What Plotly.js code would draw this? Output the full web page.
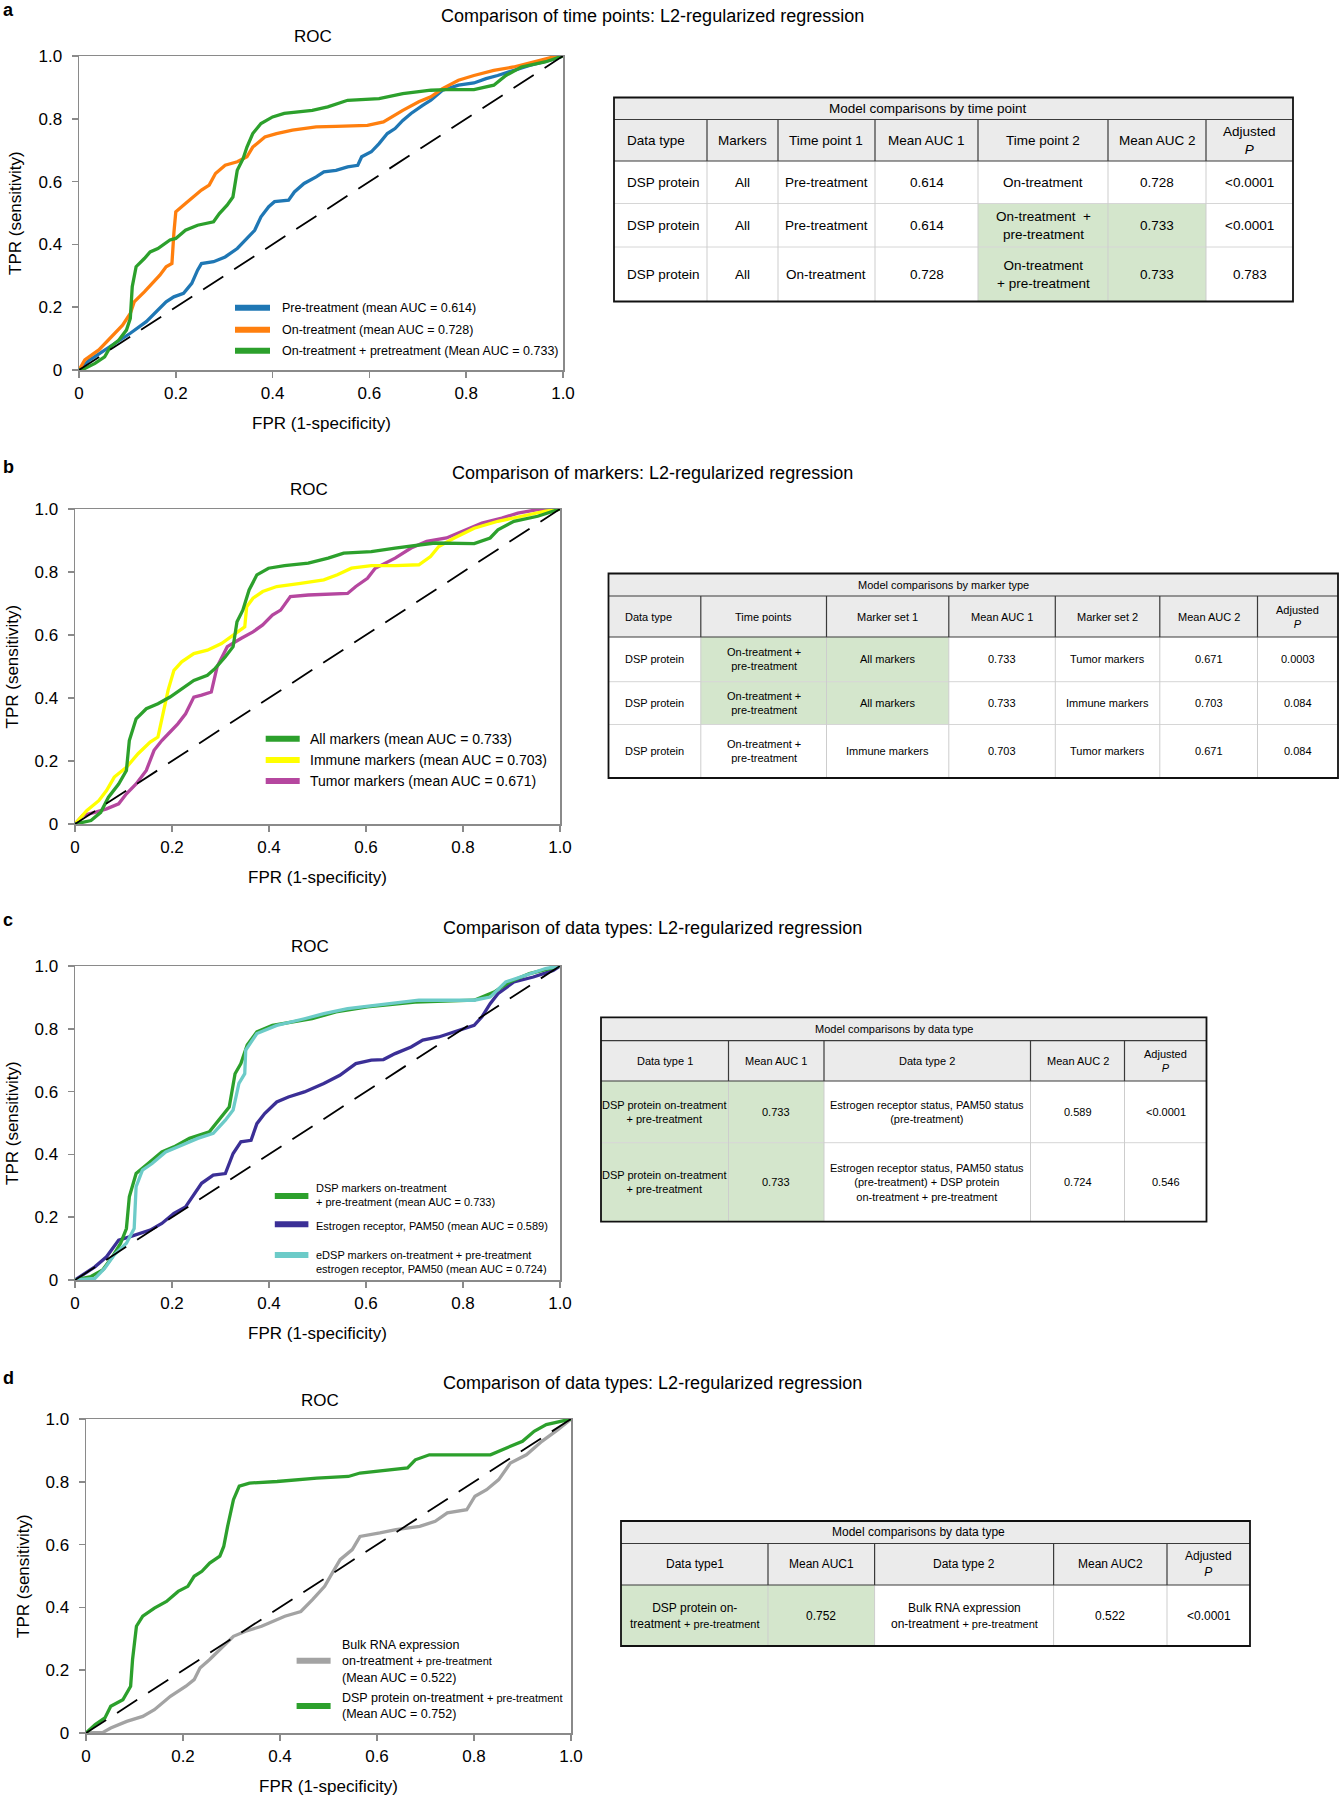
<!DOCTYPE html>
<html><head><meta charset="utf-8">
<script src="https://cdn.plot.ly/plotly-3.0.1.min.js"></script>
<style>body{margin:0;background:#fff}#chart{width:1344px;height:1800px}</style>
</head><body><div id="chart"></div>
<script>
// ---------------- DATA ----------------
const tickVals = [0, 0.2, 0.4, 0.6, 0.8, 1];
const tickText = ['0', '0.2', '0.4', '0.6', '0.8', '1.0'];
const diagonal = [0, 1];

// Panel a
const aPreX = [0,0.02,0.05,0.08,0.106,0.139,0.163,0.18,0.196,0.216,0.233,0.245,0.253,0.278,0.302,0.327,0.347,0.363,0.376,0.392,0.404,0.433,0.445,0.465,0.49,0.506,0.531,0.555,0.576,0.584,0.604,0.62,0.637,0.653,0.669,0.686,0.71,0.727,0.751,0.784,0.816,0.841,0.865,0.898,0.931,0.971,1];
const aPreY = [0,0.03,0.06,0.09,0.117,0.154,0.19,0.217,0.233,0.244,0.276,0.318,0.339,0.345,0.36,0.387,0.419,0.445,0.488,0.52,0.536,0.541,0.567,0.594,0.615,0.631,0.636,0.647,0.652,0.679,0.695,0.721,0.753,0.769,0.795,0.817,0.843,0.859,0.891,0.907,0.914,0.928,0.938,0.954,0.97,0.986,1];
const aOnX = [0,0.012,0.041,0.057,0.073,0.09,0.106,0.114,0.135,0.151,0.167,0.18,0.192,0.196,0.2,0.22,0.237,0.253,0.269,0.282,0.302,0.327,0.347,0.359,0.384,0.408,0.441,0.49,0.531,0.596,0.629,0.645,0.669,0.702,0.727,0.751,0.784,0.816,0.857,0.898,0.939,0.98,1];
const aOnY = [0,0.032,0.064,0.09,0.117,0.143,0.18,0.217,0.249,0.276,0.302,0.329,0.339,0.435,0.504,0.53,0.551,0.573,0.589,0.626,0.652,0.663,0.679,0.71,0.742,0.753,0.764,0.774,0.776,0.779,0.79,0.806,0.827,0.854,0.87,0.896,0.923,0.938,0.954,0.965,0.981,0.997,1];
const aComX = [0,0.012,0.033,0.053,0.065,0.082,0.098,0.106,0.11,0.118,0.135,0.147,0.163,0.188,0.2,0.22,0.245,0.278,0.29,0.306,0.318,0.327,0.339,0.347,0.359,0.376,0.4,0.424,0.482,0.514,0.555,0.62,0.669,0.727,0.759,0.816,0.857,0.869,0.882,0.914,0.963,1];
const aComY = [0,0.005,0.021,0.042,0.074,0.095,0.127,0.164,0.265,0.329,0.355,0.376,0.387,0.414,0.419,0.445,0.461,0.472,0.498,0.525,0.551,0.636,0.673,0.71,0.753,0.785,0.806,0.817,0.827,0.838,0.859,0.864,0.88,0.891,0.893,0.893,0.907,0.923,0.938,0.965,0.981,1];
const aLegend = ['Pre-treatment (mean AUC = 0.614)', 'On-treatment (mean AUC = 0.728)', 'On-treatment + pretreatment (Mean AUC = 0.733)'];

// Panel b
const bAllX = [0,0.033,0.053,0.069,0.09,0.106,0.112,0.126,0.147,0.171,0.196,0.22,0.245,0.273,0.289,0.31,0.326,0.334,0.346,0.359,0.375,0.399,0.432,0.481,0.522,0.554,0.611,0.66,0.709,0.742,0.823,0.856,0.872,0.905,0.954,1];
const bAllY = [0,0.011,0.037,0.085,0.127,0.17,0.265,0.334,0.366,0.382,0.403,0.43,0.456,0.472,0.494,0.531,0.563,0.642,0.679,0.743,0.791,0.812,0.82,0.828,0.844,0.86,0.865,0.876,0.886,0.892,0.89,0.908,0.934,0.961,0.977,1];
const bImmX = [0,0.024,0.049,0.065,0.081,0.106,0.13,0.155,0.171,0.179,0.192,0.204,0.22,0.245,0.273,0.302,0.326,0.35,0.354,0.367,0.387,0.416,0.465,0.513,0.541,0.57,0.611,0.66,0.709,0.733,0.75,0.782,0.823,0.872,0.921,0.97,1];
const bImmY = [0,0.042,0.074,0.106,0.149,0.18,0.223,0.26,0.276,0.329,0.425,0.488,0.515,0.541,0.552,0.573,0.6,0.626,0.69,0.717,0.738,0.754,0.764,0.775,0.791,0.812,0.82,0.82,0.823,0.849,0.881,0.908,0.939,0.961,0.977,0.993,1];
const bTumX = [0,0.016,0.041,0.065,0.09,0.106,0.126,0.147,0.163,0.179,0.196,0.212,0.228,0.245,0.261,0.281,0.293,0.314,0.342,0.367,0.387,0.407,0.424,0.444,0.481,0.562,0.579,0.603,0.619,0.66,0.693,0.725,0.766,0.807,0.839,0.88,0.913,0.954,1];
const bTumY = [0,0.027,0.037,0.048,0.064,0.096,0.127,0.17,0.234,0.265,0.292,0.318,0.35,0.403,0.409,0.419,0.499,0.563,0.589,0.61,0.632,0.663,0.679,0.722,0.727,0.732,0.754,0.78,0.812,0.844,0.876,0.897,0.908,0.934,0.955,0.971,0.987,0.998,1];
const bLegend = ['All markers (mean AUC = 0.733)', 'Immune markers (mean AUC = 0.703)', 'Tumor markers (mean AUC = 0.671)'];

// Panel c
const cDspX = [0,0.033,0.057,0.077,0.094,0.106,0.112,0.126,0.147,0.179,0.204,0.236,0.277,0.302,0.318,0.33,0.342,0.355,0.375,0.407,0.456,0.489,0.538,0.603,0.701,0.823,0.864,0.896,0.937,1];
const cDspY = [0,0.011,0.032,0.074,0.117,0.164,0.265,0.339,0.366,0.408,0.424,0.451,0.472,0.52,0.551,0.657,0.689,0.748,0.79,0.811,0.822,0.832,0.854,0.87,0.885,0.891,0.917,0.949,0.976,1];
const cErX = [0,0.041,0.065,0.09,0.114,0.155,0.179,0.204,0.228,0.244,0.261,0.285,0.31,0.326,0.342,0.363,0.375,0.391,0.416,0.44,0.473,0.513,0.546,0.579,0.611,0.636,0.66,0.693,0.717,0.75,0.791,0.823,0.839,0.856,0.872,0.905,0.945,0.986,1];
const cErY = [0,0.042,0.074,0.127,0.138,0.159,0.18,0.212,0.233,0.27,0.308,0.334,0.339,0.403,0.44,0.445,0.498,0.53,0.567,0.583,0.599,0.626,0.652,0.689,0.7,0.702,0.721,0.742,0.764,0.774,0.795,0.811,0.838,0.88,0.912,0.949,0.965,0.986,1];
const cEdspX = [0,0.041,0.061,0.081,0.106,0.122,0.126,0.139,0.159,0.187,0.22,0.253,0.285,0.31,0.326,0.338,0.35,0.352,0.375,0.416,0.473,0.513,0.562,0.619,0.709,0.823,0.856,0.888,0.937,0.97,1];
const cEdspY = [0,0.005,0.037,0.08,0.117,0.164,0.297,0.35,0.371,0.408,0.429,0.451,0.467,0.509,0.541,0.626,0.657,0.732,0.785,0.811,0.832,0.848,0.864,0.875,0.891,0.891,0.901,0.949,0.976,0.992,1];
const cLegend = ['DSP markers on-treatment<br>+ pre-treatment (mean AUC = 0.733)', 'Estrogen receptor, PAM50 (mean AUC = 0.589)', 'eDSP markers on-treatment + pre-treatment<br>estrogen receptor, PAM50 (mean AUC = 0.724)'];

// Panel d
const dRnaX = [0,0.035,0.051,0.084,0.117,0.141,0.174,0.206,0.223,0.235,0.255,0.284,0.304,0.329,0.362,0.41,0.443,0.467,0.492,0.508,0.524,0.549,0.565,0.606,0.639,0.688,0.72,0.745,0.785,0.802,0.826,0.851,0.875,0.908,0.94,0.973,1];
const dRnaY = [0,0.002,0.016,0.037,0.053,0.074,0.117,0.149,0.17,0.207,0.234,0.276,0.308,0.324,0.34,0.372,0.387,0.425,0.467,0.51,0.552,0.584,0.626,0.637,0.648,0.658,0.674,0.701,0.711,0.754,0.775,0.807,0.86,0.886,0.929,0.966,1];
const dDspX = [0,0.019,0.039,0.051,0.076,0.084,0.092,0.096,0.104,0.117,0.141,0.166,0.19,0.21,0.223,0.239,0.255,0.276,0.284,0.292,0.304,0.316,0.337,0.394,0.476,0.541,0.565,0.663,0.679,0.708,0.834,0.867,0.9,0.924,0.949,1];
const dDspY = [0,0.027,0.048,0.085,0.106,0.127,0.149,0.234,0.34,0.372,0.398,0.419,0.451,0.467,0.499,0.515,0.541,0.563,0.594,0.658,0.743,0.786,0.796,0.801,0.812,0.817,0.828,0.844,0.87,0.886,0.886,0.908,0.929,0.961,0.982,1];
const dLegend = ['Bulk RNA expression<br>on-treatment <span style="font-size:11px">+ pre-treatment</span><br>(Mean AUC = 0.522)', 'DSP protein on-treatment <span style="font-size:11px">+ pre-treatment</span><br>(Mean AUC = 0.752)'];

// Titles
const panelLabels = ['a', 'b', 'c', 'd'];
const panelTitles = ['Comparison of time points: L2-regularized regression', 'Comparison of markers: L2-regularized regression', 'Comparison of data types: L2-regularized regression', 'Comparison of data types: L2-regularized regression'];
const plotTitle = 'ROC';
const xTitle = 'FPR (1-specificity)';
const yTitle = 'TPR (sensitivity)';

// Tables
const tabATitle = 'Model comparisons by time point';
const tabAHeader = ['Data type', 'Markers', 'Time point 1', 'Mean AUC 1', 'Time point 2', 'Mean AUC 2', 'Adjusted<br><i>P</i>'];
const tabARow1 = ['DSP protein', 'All', 'Pre-treatment', '0.614', 'On-treatment', '0.728', '&lt;0.0001'];
const tabARow2 = ['DSP protein', 'All', 'Pre-treatment', '0.614', 'On-treatment  +<br>pre-treatment', '0.733', '&lt;0.0001'];
const tabARow3 = ['DSP protein', 'All', 'On-treatment', '0.728', 'On-treatment<br>+ pre-treatment', '0.733', '0.783'];

const tabBTitle = 'Model comparisons by marker type';
const tabBHeader = ['Data type', 'Time points', 'Marker set 1', 'Mean AUC 1', 'Marker set 2', 'Mean AUC 2', 'Adjusted<br><i>P</i>'];
const tabBRow1 = ['DSP protein', 'On-treatment +<br>pre-treatment', 'All markers', '0.733', 'Tumor markers', '0.671', '0.0003'];
const tabBRow2 = ['DSP protein', 'On-treatment +<br>pre-treatment', 'All markers', '0.733', 'Immune markers', '0.703', '0.084'];
const tabBRow3 = ['DSP protein', 'On-treatment +<br>pre-treatment', 'Immune markers', '0.703', 'Tumor markers', '0.671', '0.084'];

const tabCTitle = 'Model comparisons by data type';
const tabCHeader = ['Data type 1', 'Mean AUC 1', 'Data type 2', 'Mean AUC 2', 'Adjusted<br><i>P</i>'];
const tabCRow1 = ['DSP protein on-treatment<br>+ pre-treatment', '0.733', 'Estrogen receptor status, PAM50 status<br>(pre-treatment)', '0.589', '&lt;0.0001'];
const tabCRow2 = ['DSP protein on-treatment<br>+ pre-treatment', '0.733', 'Estrogen receptor status, PAM50 status<br>(pre-treatment) + DSP protein<br>on-treatment + pre-treatment', '0.724', '0.546'];

const tabDTitle = 'Model comparisons by data type';
const tabDHeader = ['Data type1', 'Mean AUC1', 'Data type 2', 'Mean AUC2', 'Adjusted<br><i>P</i>'];
const tabDRow1 = ['DSP protein on-<br>treatment <span style="font-size:11px">+ pre-treatment</span>', '0.752', 'Bulk RNA expression<br>on-treatment <span style="font-size:11px">+ pre-treatment</span>', '0.522', '&lt;0.0001'];

// ---------------- STYLE / LAYOUT ----------------
const FONT = 'Arial, "Liberation Sans", Helvetica, sans-serif';
const W = 1344, H = 1800;
const PX = v => v / W, PY = v => 1 - v / H;
const GREEN_CELL = '#d4e6cc';
const C = {blue:'#1f77b4', orange:'#ff7f0e', green:'#2ca02c', yellow:'#ffff00', magenta:'#b5479f', navy:'#3b2f96', cyan:'#6ccbc8', gray:'#a3a3a3'};

const panels = [
  {x0:79, x1:563, y0:56, y1:370, titleY:16, rocX:313, rocY:37, labelY:10,
   curves:[[aPreX,aPreY,C.blue],[aOnX,aOnY,C.orange],[aComX,aComY,C.green]],
   legend:{labels:aLegend, colors:[C.blue,C.orange,C.green], sx:[235,270], sy:[307.7,329.7,350.7], ty:[307.7,329.7,350.7], tx:279.6, size:12.5}},
  {x0:75, x1:560, y0:509, y1:824, titleY:473, rocX:309, rocY:490, labelY:467,
   curves:[[bTumX,bTumY,C.magenta],[bImmX,bImmY,C.yellow],[bAllX,bAllY,C.green]],
   legend:{labels:bLegend, colors:[C.green,C.yellow,C.magenta], sx:[265.7,299.7], sy:[738.7,760,781], ty:[738.7,760,781], tx:308.4, size:14}},
  {x0:75, x1:560, y0:966, y1:1280, titleY:928, rocX:310, rocY:946, labelY:920,
   curves:[[cErX,cErY,C.navy],[cDspX,cDspY,C.green],[cEdspX,cEdspY,C.cyan]],
   legend:{labels:cLegend, colors:[C.green,C.navy,C.cyan], sx:[274.8,308.4], sy:[1196,1224.3,1255], ty:[1194.5,1226,1261.5], tx:314.4, size:11}},
  {x0:86, x1:571, y0:1419, y1:1733, titleY:1383, rocX:320, rocY:1400, labelY:1378,
   curves:[[dRnaX,dRnaY,C.gray],[dDspX,dDspY,C.green]],
   legend:{labels:dLegend, colors:[C.gray,C.green], sx:[296.6,330.6], sy:[1660.7,1706], ty:[1661,1706], tx:340, size:12.5}}
];

const tables = [
  {title:tabATitle, header:tabAHeader, rows:[tabARow1,tabARow2,tabARow3], font:13.5, leftPad:11, titleX:928,
   cols:[614,707,778,875,978,1108,1206,1293], ys:[97.5,119.5,161,203.5,247,301.5], hl:[[1,4],[1,5],[2,4],[2,5]]},
  {title:tabBTitle, header:tabBHeader, rows:[tabBRow1,tabBRow2,tabBRow3], font:11, leftPad:14, titleX:943,
   cols:[608.5,700.8,826.5,948.8,1055.3,1159.8,1257.5,1338], ys:[573.5,596,637,681.7,724.5,778], hl:[[0,1],[0,2],[1,1],[1,2]]},
  {title:tabCTitle, header:tabCHeader, rows:[tabCRow1,tabCRow2], font:11, leftPad:null, titleX:894,
   cols:[601,728.5,824,1030.5,1124.5,1206.5], ys:[1017.3,1040.7,1081,1142.7,1221.7], hl:[[0,0],[0,1],[1,0],[1,1]]},
  {title:tabDTitle, header:tabDHeader, rows:[tabDRow1], font:12, leftPad:null, titleX:918,
   cols:[621,768,874.6,1053.6,1167,1250], ys:[1521,1543.5,1585,1646], hl:[[0,0],[0,1]]}
];

const shapes = [], annotations = [], traces = [];
function txt(x, y, text, size, extra) {
  annotations.push(Object.assign({xref:'paper', yref:'paper', x:PX(x), y:PY(y), text:text, showarrow:false,
    font:{family:FONT, size:size, color:'#000'}, xanchor:'center', yanchor:'middle', align:'center'}, extra || {}));
}
function rect(x0, y0, x1, y1, fill, lineColor, lw) {
  shapes.push({type:'rect', xref:'paper', yref:'paper', x0:PX(x0), x1:PX(x1), y0:PY(y1), y1:PY(y0),
    fillcolor:fill || 'rgba(0,0,0,0)', line:{width:lw || 0, color:lineColor || 'rgba(0,0,0,0)'}, layer:'above'});
}
function seg(x0, y0, x1, y1, color, w) {
  shapes.push({type:'line', xref:'paper', yref:'paper', x0:PX(x0), x1:PX(x1), y0:PY(y0), y1:PY(y1), line:{color:color, width:w}, layer:'above'});
}

const layout = {width:W, height:H, margin:{l:0, r:0, t:0, b:0}, paper_bgcolor:'#fff', plot_bgcolor:'#fff', showlegend:false, font:{family:FONT, color:'#000'}};

panels.forEach((p, i) => {
  const n = i === 0 ? '' : String(i + 1);
  const common = {range:[0, 1], showline:true, mirror:true, linecolor:'#8a8a8a', linewidth:1.5, ticks:'outside', ticklen:6,
    tickwidth:1.5, tickcolor:'#8a8a8a', tickvals:tickVals, ticktext:tickText, tickfont:{family:FONT, size:17, color:'#000'},
    showgrid:false, zeroline:false, fixedrange:true};
  layout['xaxis' + n] = Object.assign({}, common, {domain:[PX(p.x0), PX(p.x1)], anchor:'y' + n, ticklabelstandoff:1});
  layout['yaxis' + n] = Object.assign({}, common, {domain:[PY(p.y1), PY(p.y0)], anchor:'x' + n, ticklabelstandoff:6});
  p.curves.forEach(cv => traces.push({type:'scatter', mode:'lines', x:cv[0], y:cv[1], xaxis:'x' + n, yaxis:'y' + n,
    line:{color:cv[2], width:3.3}, hoverinfo:'skip'}));
  traces.push({type:'scatter', mode:'lines', x:diagonal, y:diagonal, xaxis:'x' + n, yaxis:'y' + n,
    line:{color:'#000', width:1.8, dash:'24px,13px'}, hoverinfo:'skip'});
  // titles
  txt(8, p.labelY, '<b>' + panelLabels[i] + '</b>', 18);
  txt(652, p.titleY, panelTitles[i], 18);
  txt(p.rocX, p.rocY, plotTitle, 17);
  txt((p.x0 + p.x1) / 2, p.y1 + 53, xTitle, 17);
  txt(p.x0 - 63, (p.y0 + p.y1) / 2, yTitle, 17, {textangle:-90});
  // legend
  const L = p.legend;
  L.labels.forEach((lab, k) => {
    seg(L.sx[0], L.sy[k], L.sx[1], L.sy[k], L.colors[k], 6);
    txt(L.tx, L.ty[k], lab, L.size, {xanchor:'left', align:'left'});
  });
});

tables.forEach(t => {
  const c = t.cols, r = t.ys, L = c[0], R = c[c.length - 1], B = r[r.length - 1];
  rect(L, r[0], R, r[2], '#ebebeb');
  t.hl.forEach(([ri, ci]) => rect(c[ci], r[ri + 2], c[ci + 1], r[ri + 3], GREEN_CELL));
  for (let k = 3; k < r.length - 1; k++) seg(L, r[k], R, r[k], '#d6d6d6', 1);
  for (let j = 1; j < c.length - 1; j++) seg(c[j], r[2], c[j], B, '#cdcdcd', 1);
  for (let j = 1; j < c.length - 1; j++) seg(c[j], r[1], c[j], r[2], '#3a3a3a', 1.2);
  seg(L, r[1], R, r[1], '#3a3a3a', 1.2);
  seg(L, r[2], R, r[2], '#3a3a3a', 1.2);
  rect(L, r[0], R, B, null, '#111', 1.8);
  txt(t.titleX, (r[0] + r[1]) / 2, t.title, t.font);
  const cellText = (cells, y0, y1) => cells.forEach((s, j) => {
    if (j === 0 && t.leftPad !== null) txt(c[0] + t.leftPad, (y0 + y1) / 2, s, t.font, {xanchor:'left', align:'left'});
    else txt((c[j] + c[j + 1]) / 2, (y0 + y1) / 2, s, t.font);
  });
  cellText(t.header, r[1], r[2]);
  t.rows.forEach((row, k) => cellText(row, r[k + 2], r[k + 3]));
});

layout.shapes = shapes;
layout.annotations = annotations;
Plotly.newPlot('chart', traces, layout, {staticPlot:true, displayModeBar:false});
</script></body></html>
